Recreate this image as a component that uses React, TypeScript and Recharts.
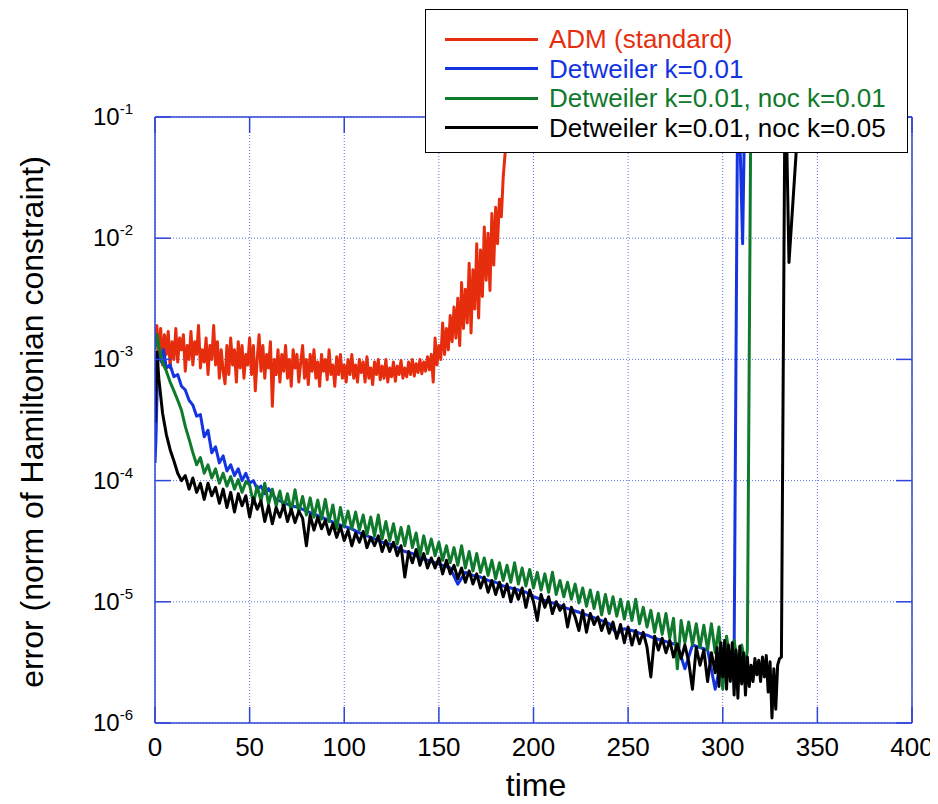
import React from 'react'
import { LineChart, Line, XAxis, YAxis, CartesianGrid } from 'recharts'

const FONT = '"Liberation Sans", Arial, Helvetica, sans-serif'
const FRAME = '#2f47d8'
const GRID = '#5b70e6'

const timeTicks = [0, 50, 100, 150, 200, 250, 300, 350, 400]
const errorTicks = [1e-6, 1e-5, 1e-4, 1e-3, 1e-2, 1e-1]

const seriesNames = [
  'ADM (standard)',
  'Detweiler k=0.01',
  'Detweiler k=0.01, noc k=0.01',
  'Detweiler k=0.01, noc k=0.05',
]
const seriesColors = ['#e62e0e', '#1434e2', '#0f7a2c', '#000000']

// ADM (standard): one value per time unit, t = 0 .. 186
const admDt = 1
const admError = [
  1.5e-3, 1.9e-3, 1.0e-3, 1.8e-3, 9e-4, 1.6e-3, 1.1e-3, 1.7e-3, 8.5e-4, 1.4e-3,
  1.0e-3, 1.8e-3, 9.5e-4, 1.5e-3, 1.2e-3, 1.6e-3, 8.0e-4, 1.3e-3, 1.0e-3, 1.7e-3,
  9e-4, 1.4e-3, 1.1e-3, 1.9e-3, 8.5e-4, 1.2e-3, 9.5e-4, 1.5e-3, 7.5e-4, 1.3e-3,
  1.0e-3, 1.9e-3, 9e-4, 1.4e-3, 7e-4, 1.2e-3, 8e-4, 6.3e-4, 1.3e-3, 7.5e-4,
  1.5e-3, 9e-4, 1.2e-3, 6.5e-4, 1.4e-3, 8.5e-4, 1.3e-3, 7e-4, 1.1e-3, 9e-4,
  1.5e-3, 7.5e-4, 1.3e-3, 5.5e-4, 1.0e-3, 1.6e-3, 8e-4, 1.3e-3, 7e-4, 1.1e-3,
  8.5e-4, 1.4e-3, 4.1e-4, 1.0e-3, 7.5e-4, 1.2e-3, 6.5e-4, 1.1e-3, 8e-4, 1.3e-3,
  7e-4, 1.0e-3, 6e-4, 1.2e-3, 8.5e-4, 1.1e-3, 6.5e-4, 9.5e-4, 1.3e-3, 7e-4,
  1.0e-3, 6.2e-4, 1.1e-3, 8e-4, 1.2e-3, 7e-4, 9.5e-4, 6e-4, 1.1e-3, 8e-4,
  1.0e-3, 6.8e-4, 1.2e-3, 7.5e-4, 9e-4, 6e-4, 1.05e-3, 7.5e-4, 1.1e-3, 7e-4,
  9e-4, 6.5e-4, 1.0e-3, 7.5e-4, 1.1e-3, 7e-4, 9e-4, 6.5e-4, 1.0e-3, 7.8e-4,
  9.5e-4, 6.5e-4, 1.05e-3, 7e-4, 8.5e-4, 6.2e-4, 9.5e-4, 7.5e-4, 1.0e-3, 6.8e-4,
  8.8e-4, 7e-4, 1.0e-3, 6.5e-4, 8.5e-4, 7.2e-4, 9.5e-4, 6.6e-4, 8.8e-4, 7.5e-4,
  9.8e-4, 7e-4, 8.5e-4, 7.2e-4, 9.5e-4, 7.5e-4, 1.0e-3, 7.3e-4, 9.2e-4, 7.8e-4,
  1.0e-3, 7.6e-4, 9.5e-4, 8e-4, 1.05e-3, 8.2e-4, 1.1e-3, 6.5e-4, 1.5e-3, 9e-4,
  1.3e-3, 1.0e-3, 2.0e-3, 1.1e-3, 1.8e-3, 1.2e-3, 2.3e-3, 1.4e-3, 2.7e-3, 1.5e-3,
  3.2e-3, 1.3e-3, 4.3e-3, 1.8e-3, 3.8e-3, 2.0e-3, 6.2e-3, 1.65e-3, 5.5e-3, 2.6e-3,
  9e-3, 2.2e-3, 8e-3, 3.3e-3, 1.24e-2, 4.5e-3, 1.1e-2, 3.7e-3, 1.6e-2, 6e-3,
  1.8e-2, 9e-3, 2.1e-2, 1.5e-2, 3.2e-2, 5e-2, 0.2,
]

// [time, error]
const detweiler: [number, number][] = [
  [0, 1.4e-4], [0.5, 2.2e-4], [1.5, 9.5e-4], [2.5, 1.1e-3], [3.5, 9.5e-4], [4.5, 1.2e-3],
  [6, 8.5e-4], [8, 9.0e-4], [10, 7.2e-4], [12, 7.5e-4], [14, 6.0e-4], [16, 5.6e-4],
  [18, 4.6e-4], [20, 4.2e-4], [22, 3.4e-4], [24, 3.5e-4], [26, 2.3e-4], [28, 2.6e-4],
  [30, 1.7e-4], [32, 1.9e-4], [34, 1.4e-4], [36, 1.6e-4], [38, 1.2e-4], [40, 1.35e-4],
  [42, 1.1e-4], [44, 1.25e-4], [46, 1.0e-4], [48, 1.15e-4], [50, 9.5e-5], [52, 1.0e-4],
  [54, 8.5e-5], [56, 9.0e-5], [58, 7.8e-5], [60, 8.6e-5], [64, 7.0e-5], [68, 6.6e-5],
  [72, 6.2e-5], [76, 6.0e-5], [80, 5.6e-5], [84, 5.3e-5], [88, 5.0e-5], [92, 4.7e-5],
  [96, 4.4e-5], [100, 4.2e-5], [104, 4.0e-5], [108, 3.7e-5], [112, 3.5e-5], [116, 3.3e-5],
  [120, 3.1e-5], [124, 3.0e-5], [128, 2.8e-5], [132, 2.6e-5], [136, 2.5e-5], [140, 2.3e-5],
  [144, 2.2e-5], [148, 2.1e-5], [152, 2.0e-5], [156, 1.9e-5], [160, 1.4e-5], [164, 1.75e-5],
  [168, 1.65e-5], [172, 1.6e-5], [176, 1.5e-5], [180, 1.45e-5], [184, 1.35e-5], [188, 1.3e-5],
  [192, 1.25e-5], [196, 1.2e-5], [200, 1.1e-5], [204, 1.05e-5], [208, 1.0e-5], [212, 9.6e-6],
  [216, 9.0e-6], [220, 8.6e-6], [224, 8.2e-6], [228, 7.8e-6], [232, 7.4e-6], [236, 7.0e-6],
  [240, 6.6e-6], [244, 5.4e-6], [248, 6.0e-6], [252, 5.8e-6], [256, 5.5e-6], [260, 5.3e-6],
  [264, 5.0e-6], [268, 4.8e-6], [272, 4.6e-6], [276, 4.4e-6], [280, 2.8e-6], [284, 4.4e-6],
  [288, 4.2e-6], [292, 4.0e-6], [296, 1.9e-6], [300, 3.8e-6], [304, 3.4e-6], [306, 3.5e-6],
  [308, 0.3], [310.5, 9e-3], [312, 0.3],
]

const detweilerNoc01: [number, number][] = [
  [0, 1.2e-3], [1, 1.6e-3], [2, 1.3e-3], [4, 9.4e-4], [6, 8.0e-4], [8, 6.5e-4], [10, 5.5e-4],
  [12, 4.6e-4], [14, 3.8e-4], [16, 2.8e-4], [18, 2.2e-4], [20, 1.7e-4], [22, 1.35e-4],
  [24, 1.55e-4], [26, 1.15e-4], [28, 1.35e-4], [30, 1.05e-4], [32, 1.25e-4], [34, 9.5e-5],
  [36, 1.15e-4], [38, 9.0e-5], [40, 1.08e-4], [42, 8.5e-5], [44, 1.02e-4], [46, 8.0e-5],
  [48, 9.8e-5], [50, 9.2e-5], [52, 6.5e-5], [54, 9.0e-5], [56, 6.8e-5], [58, 9.5e-5],
  [60, 6.4e-5], [62, 8.5e-5], [64, 6.2e-5], [66, 8.2e-5], [68, 5.8e-5], [70, 7.8e-5],
  [72, 5.6e-5], [74, 8.4e-5], [76, 5.5e-5], [78, 7.4e-5], [80, 5.2e-5], [82, 7.2e-5],
  [84, 5.0e-5], [86, 6.9e-5], [88, 4.8e-5], [90, 7.0e-5], [92, 4.6e-5], [94, 6.3e-5],
  [96, 4.0e-5], [98, 6.0e-5], [100, 4.2e-5], [102, 5.6e-5], [104, 4.0e-5], [106, 5.5e-5],
  [108, 3.9e-5], [110, 5.2e-5], [112, 3.6e-5], [114, 5.0e-5], [116, 3.5e-5], [118, 5.2e-5],
  [120, 3.3e-5], [122, 4.6e-5], [124, 3.2e-5], [126, 4.4e-5], [128, 3.0e-5], [130, 4.1e-5],
  [132, 2.9e-5], [134, 4.2e-5], [136, 2.8e-5], [138, 3.7e-5], [140, 2.4e-5], [142, 3.5e-5],
  [144, 2.5e-5], [146, 3.3e-5], [148, 2.4e-5], [150, 3.1e-5], [152, 2.2e-5], [154, 2.9e-5],
  [156, 2.1e-5], [158, 2.8e-5], [160, 2.0e-5], [162, 2.9e-5], [164, 1.9e-5], [166, 2.6e-5],
  [168, 1.8e-5], [170, 2.5e-5], [172, 1.75e-5], [174, 2.3e-5], [176, 1.65e-5], [178, 2.2e-5],
  [180, 1.55e-5], [182, 2.1e-5], [184, 1.5e-5], [186, 2.0e-5], [188, 1.45e-5], [190, 2.1e-5],
  [192, 1.4e-5], [194, 1.9e-5], [196, 1.35e-5], [198, 1.85e-5], [200, 1.3e-5], [202, 1.75e-5],
  [204, 1.25e-5], [206, 1.7e-5], [208, 1.2e-5], [210, 1.75e-5], [212, 1.15e-5], [214, 1.5e-5],
  [216, 1.1e-5], [218, 1.45e-5], [220, 1.05e-5], [222, 1.4e-5], [224, 9.8e-6], [226, 1.3e-5],
  [228, 9.2e-6], [230, 1.25e-5], [232, 8.8e-6], [234, 1.2e-5], [236, 7.8e-6], [238, 1.15e-5],
  [240, 8.0e-6], [242, 1.1e-5], [244, 7.6e-6], [246, 1.05e-5], [248, 7.2e-6], [250, 1.0e-5],
  [252, 7.0e-6], [254, 1.05e-5], [256, 6.6e-6], [258, 9.0e-6], [260, 6.2e-6], [262, 8.5e-6],
  [264, 5.6e-6], [266, 8.0e-6], [268, 5.4e-6], [270, 8.0e-6], [272, 5.0e-6], [274, 7.3e-6],
  [276, 2.8e-6], [278, 7.0e-6], [280, 4.6e-6], [282, 6.8e-6], [284, 4.4e-6], [286, 6.6e-6],
  [288, 4.2e-6], [290, 6.4e-6], [292, 4.0e-6], [294, 6.6e-6], [296, 3.8e-6], [298, 6.2e-6],
  [300, 1.9e-6], [302, 5.2e-6], [304, 3.2e-6], [306, 4.8e-6], [308, 3.0e-6], [310, 4.4e-6],
  [312, 3.0e-6], [313, 4.0e-6], [315, 0.3],
]

const detweilerNoc05: [number, number][] = [
  [0, 3.0e-4], [1, 1.15e-3], [2, 7.0e-4], [4, 3.6e-4], [6, 2.4e-4], [8, 1.8e-4], [10, 1.45e-4],
  [12, 1.15e-4], [14, 1.0e-4], [16, 1.1e-4], [18, 8.5e-5], [20, 1.05e-4], [22, 8.0e-5],
  [24, 9.5e-5], [26, 7.0e-5], [28, 9.5e-5], [30, 7.5e-5], [32, 8.8e-5], [34, 6.5e-5],
  [36, 8.5e-5], [38, 6.0e-5], [40, 8.0e-5], [42, 5.5e-5], [44, 7.8e-5], [46, 6.2e-5],
  [48, 7.5e-5], [50, 5.0e-5], [52, 7.2e-5], [54, 5.8e-5], [56, 6.8e-5], [58, 4.6e-5],
  [60, 6.2e-5], [62, 4.4e-5], [64, 6.0e-5], [66, 5.0e-5], [68, 6.3e-5], [70, 4.6e-5],
  [72, 5.8e-5], [74, 4.5e-5], [76, 5.6e-5], [78, 4.9e-5], [80, 2.9e-5], [82, 5.2e-5],
  [84, 3.9e-5], [86, 5.0e-5], [88, 4.0e-5], [90, 4.7e-5], [92, 3.6e-5], [94, 4.4e-5],
  [96, 3.4e-5], [98, 4.2e-5], [100, 3.2e-5], [102, 3.9e-5], [104, 2.9e-5], [106, 3.7e-5],
  [108, 3.1e-5], [110, 3.8e-5], [112, 2.8e-5], [114, 3.4e-5], [116, 2.9e-5], [118, 3.5e-5],
  [120, 2.6e-5], [122, 3.2e-5], [124, 2.6e-5], [126, 3.1e-5], [128, 2.4e-5], [130, 2.9e-5],
  [132, 1.6e-5], [134, 2.6e-5], [136, 2.1e-5], [138, 2.7e-5], [140, 2.0e-5], [142, 2.5e-5],
  [144, 1.9e-5], [146, 2.3e-5], [148, 1.9e-5], [150, 2.3e-5], [152, 1.7e-5], [154, 2.2e-5],
  [156, 1.7e-5], [158, 2.0e-5], [160, 1.55e-5], [162, 1.9e-5], [164, 1.45e-5], [166, 1.8e-5],
  [168, 1.4e-5], [170, 1.7e-5], [172, 1.3e-5], [174, 1.6e-5], [176, 1.2e-5], [178, 1.5e-5],
  [180, 1.15e-5], [182, 1.45e-5], [184, 1.1e-5], [186, 1.4e-5], [188, 1.0e-5], [190, 1.3e-5],
  [192, 1.05e-5], [194, 1.3e-5], [196, 9.0e-6], [198, 1.25e-5], [200, 1.0e-5], [202, 7.0e-6],
  [204, 1.15e-5], [206, 9.0e-6], [208, 1.1e-5], [210, 8.0e-6], [212, 1.0e-5], [214, 8.5e-6],
  [216, 9.5e-6], [218, 6.2e-6], [220, 9.0e-6], [222, 7.5e-6], [224, 5.8e-6], [226, 8.5e-6],
  [228, 5.6e-6], [230, 8.0e-6], [232, 6.5e-6], [234, 7.5e-6], [236, 5.8e-6], [238, 7.2e-6],
  [240, 5.5e-6], [242, 6.8e-6], [244, 5.0e-6], [246, 6.5e-6], [248, 4.6e-6], [250, 6.2e-6],
  [252, 4.4e-6], [254, 5.8e-6], [256, 4.5e-6], [258, 5.6e-6], [260, 4.2e-6], [262, 2.4e-6],
  [264, 5.2e-6], [266, 4.0e-6], [268, 5.0e-6], [270, 3.8e-6], [272, 4.8e-6], [274, 3.5e-6],
  [276, 4.5e-6], [278, 3.4e-6], [280, 4.4e-6], [282, 3.2e-6], [284, 1.9e-6], [286, 4.2e-6],
  [288, 3.0e-6], [290, 4.0e-6], [292, 2.2e-6], [294, 3.8e-6], [296, 2.6e-6], [297, 4.2e-6],
  [298, 2.0e-6], [299, 4.6e-6], [300, 2.4e-6], [301, 4.8e-6], [302, 1.9e-6], [303, 4.4e-6],
  [304, 2.2e-6], [305, 4.6e-6], [306, 1.7e-6], [307, 4.0e-6], [308, 1.6e-6], [309, 4.3e-6],
  [310, 2.1e-6], [311, 3.8e-6], [312, 1.7e-6], [313, 3.5e-6], [314, 2.0e-6], [315, 3.0e-6],
  [316, 2.2e-6], [317, 3.4e-6], [318, 2.5e-6], [319, 3.3e-6], [320, 2.2e-6], [321, 3.5e-6],
  [322, 2.4e-6], [323, 3.6e-6], [324, 1.8e-6], [325, 3.2e-6], [326, 1.1e-6], [327, 2.8e-6],
  [328, 1.3e-6], [329, 3.0e-6], [330, 3.4e-6], [331, 3.5e-6], [333, 0.3], [335, 6.3e-3],
  [342, 0.3],
]

const admRows = admError.map((v, i) => ({ t: i * admDt, v }))
const toRows = (pairs: [number, number][]) => pairs.map(([t, v]) => ({ t, v }))
const seriesRows = [admRows, toRows(detweiler), toRows(detweilerNoc01), toRows(detweilerNoc05)]

const TICK_LEN = 16

function BottomTick(props: any) {
  const { x, y, payload } = props
  return (
    <g>
      <line x1={x} y1={y} x2={x} y2={y - TICK_LEN} stroke={FRAME} strokeWidth={1.5} />
      <text x={x} y={y + 33} textAnchor="middle" fontSize={26} fontFamily={FONT} fill="#000">
        {payload.value}
      </text>
    </g>
  )
}

function TopTick(props: any) {
  const { x, y } = props
  return <line x1={x} y1={y} x2={x} y2={y + TICK_LEN} stroke={FRAME} strokeWidth={1.5} />
}

function LeftTick(props: any) {
  const { x, y, payload } = props
  const exp = Math.round(Math.log10(payload.value))
  return (
    <g>
      <line x1={x} y1={y} x2={x + TICK_LEN} y2={y} stroke={FRAME} strokeWidth={1.5} />
      <text x={x - 22} y={y + 8} textAnchor="end" fontFamily={FONT} fill="#000">
        <tspan fontSize={24}>10</tspan>
        <tspan fontSize={15} dy={-11}>{exp}</tspan>
      </text>
    </g>
  )
}

function RightTick(props: any) {
  const { x, y } = props
  return <line x1={x} y1={y} x2={x - TICK_LEN} y2={y} stroke={FRAME} strokeWidth={1.5} />
}

export default function App() {
  return (
    <div style={{ position: 'relative', width: 938, height: 804, margin: -8, background: '#fff' }}>
      <LineChart width={938} height={804} margin={{ top: 116, right: 25, bottom: 80, left: 0 }}>
        <CartesianGrid stroke={GRID} strokeDasharray="1 2" strokeWidth={1} />
        <XAxis
          dataKey="t"
          type="number"
          domain={[0, 400]}
          ticks={timeTicks}
          allowDataOverflow
          height={1}
          tickSize={0}
          tickMargin={0}
          tickLine={false}
          axisLine={{ stroke: FRAME, strokeWidth: 1.5 }}
          tick={BottomTick}
          interval={0}
        />
        <XAxis
          xAxisId="top"
          orientation="top"
          dataKey="t"
          type="number"
          domain={[0, 400]}
          ticks={timeTicks}
          allowDataOverflow
          height={1}
          tickSize={0}
          tickMargin={0}
          tickLine={false}
          axisLine={{ stroke: FRAME, strokeWidth: 1.5 }}
          tick={TopTick}
          interval={0}
        />
        <YAxis
          scale="log"
          type="number"
          domain={[1e-6, 1e-1]}
          ticks={errorTicks}
          allowDataOverflow
          width={155}
          tickSize={0}
          tickMargin={0}
          tickLine={false}
          axisLine={{ stroke: FRAME, strokeWidth: 1.5 }}
          tick={LeftTick}
          interval={0}
        />
        <YAxis
          yAxisId="right"
          orientation="right"
          scale="log"
          type="number"
          domain={[1e-6, 1e-1]}
          ticks={errorTicks}
          allowDataOverflow
          width={1}
          tickSize={0}
          tickMargin={0}
          tickLine={false}
          axisLine={{ stroke: FRAME, strokeWidth: 1.5 }}
          tick={RightTick}
          interval={0}
        />
        {seriesRows.map((rows, i) => (
          <Line
            key={seriesNames[i]}
            data={rows}
            dataKey="v"
            name={seriesNames[i]}
            type="linear"
            stroke={seriesColors[i]}
            strokeWidth={3}
            strokeLinejoin="round"
            dot={false}
            activeDot={false}
            isAnimationActive={false}
          />
        ))}
      </LineChart>

      <div
        style={{
          position: 'absolute',
          left: 425,
          top: 9,
          width: 481,
          height: 142,
          border: '1.5px solid #000',
          background: '#fff',
          fontFamily: FONT,
        }}
      >
        {seriesNames.map((name, i) => (
          <div
            key={name}
            style={{ position: 'absolute', left: 0, top: 14 + i * 29.5, height: 30, display: 'flex', alignItems: 'center' }}
          >
            <div style={{ marginLeft: 19, width: 93, height: 3, background: seriesColors[i] }} />
            <span style={{ marginLeft: 11, fontSize: 26, color: seriesColors[i], whiteSpace: 'nowrap', lineHeight: '30px' }}>
              {name}
            </span>
          </div>
        ))}
      </div>

      <div
        style={{
          position: 'absolute',
          left: 32,
          top: 422,
          transform: 'translate(-50%, -50%) rotate(-90deg)',
          fontFamily: FONT,
          fontSize: 32,
          whiteSpace: 'nowrap',
          color: '#000',
        }}
      >
        error (norm of Hamiltonian constraint)
      </div>
      <div
        style={{
          position: 'absolute',
          left: 536,
          top: 785,
          transform: 'translate(-50%, -50%)',
          fontFamily: FONT,
          fontSize: 32,
          whiteSpace: 'nowrap',
          color: '#000',
        }}
      >
        time
      </div>
    </div>
  )
}
